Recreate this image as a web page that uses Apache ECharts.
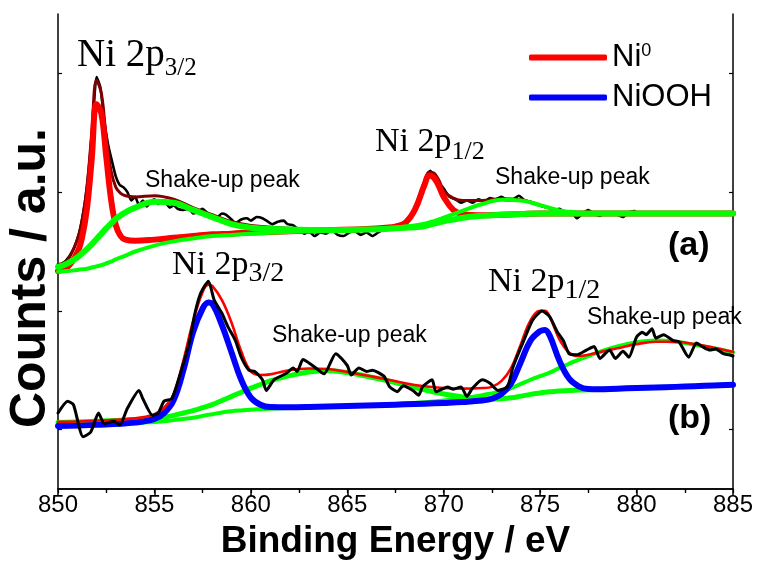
<!DOCTYPE html>
<html>
<head>
<meta charset="utf-8">
<title>Ni 2p XPS</title>
<script src="https://cdn.jsdelivr.net/npm/echarts@6/dist/echarts.min.js"></script>
<style>
html, body { margin: 0; padding: 0; background: #fff; }
#chart { width: 758px; height: 568px; }
</style>
</head>
<body>
<div id="chart"></div>
<script>
// axis ticks
const xTicks = [850, 855, 860, 865, 870, 875, 880, 885];
const yTicks = [5, 15, 25, 35];

// (a) fitted curves
const fitEnergyA = [850, 850.5, 851, 851.25, 851.5, 851.75, 852, 852.25, 852.5, 852.75,
  853, 853.25, 853.5, 854, 855, 856, 857, 858, 859, 860,
  862, 864, 866, 867, 867.5, 868, 868.5, 869, 869.25, 869.5,
  869.75, 870, 870.5, 871, 872, 873, 874, 875, 876, 877,
  878, 880, 885];
const ni0A = [18.35, 18.7, 19.9, 21.2, 23.6, 27.8, 32.4, 31.6, 28.0, 24.4,
  22.2, 21.3, 21.0, 20.9, 21.0, 21.15, 21.3, 21.45, 21.5, 21.6,
  21.7, 21.8, 21.9, 22.0, 22.1, 22.4, 23.5, 25.6, 26.4, 26.2,
  25.5, 24.6, 23.5, 23.15, 23.05, 23.1, 23.15, 23.2, 23.2, 23.2,
  23.2, 23.2, 23.2];
const shakeA1 = [18.7, 19.0, 19.5, 19.85, 20.2, 20.6, 21.05, 21.5, 21.95, 22.35,
  22.75, 23.05, 23.3, 23.7, 24.2, 24.1, 23.5, 22.9, 22.3, 22.0,
  21.85, 21.8, 21.85, 21.9, 21.95, 22.0, 22.05, 22.15, 22.25, 22.35,
  22.45, 22.55, 22.7, 22.85, 23.0, 23.1, 23.15, 23.2, 23.2, 23.2,
  23.2, 23.2, 23.2];
const shakeA2 = [18.3, 18.35, 18.45, 18.5, 18.55, 18.65, 18.75, 18.85, 19.0, 19.15,
  19.35, 19.5, 19.65, 20.0, 20.5, 20.85, 21.1, 21.3, 21.4, 21.5,
  21.65, 21.75, 21.85, 21.95, 22.0, 22.1, 22.2, 22.35, 22.45, 22.55,
  22.7, 22.85, 23.15, 23.45, 24.0, 24.35, 24.3, 23.9, 23.45, 23.25,
  23.2, 23.2, 23.2];
const envelopeA = [18.9, 19.3, 21.0, 22.6, 25.4, 30.0, 34.4, 33.3, 29.6, 26.8,
  25.4, 24.9, 24.7, 24.6, 24.7, 24.4, 23.7, 23.1, 22.5, 22.2,
  21.95, 21.85, 21.95, 22.05, 22.15, 22.5, 23.6, 25.9, 26.7, 26.6,
  26.0, 25.1, 24.5, 24.3, 24.3, 24.45, 24.35, 23.9, 23.45, 23.25,
  23.2, 23.2, 23.2];

// (a) measured spectrum
const rawEnergyA = [850.0, 850.4, 850.8, 851.1, 851.4, 851.6, 851.8, 852.0, 852.2, 852.4,
  852.6, 852.8, 853.0, 853.2, 853.4, 853.6, 853.8, 854.0, 854.2, 854.4,
  854.6, 854.8, 855.0, 855.2, 855.4, 855.6, 855.8, 856.0, 856.2, 856.5,
  856.8, 857.0, 857.2, 857.5, 857.7, 858.0, 858.2, 858.5, 858.7, 859.0,
  859.2, 859.5, 859.8, 860.0, 860.3, 860.6, 860.9, 861.1, 861.4, 861.7,
  861.9, 862.2, 862.5, 862.8, 863.0, 863.3, 863.6, 863.9, 864.2, 864.5,
  864.8, 865.1, 865.4, 865.7, 866.0, 866.3, 866.6, 866.9, 867.2, 867.5,
  867.8, 868.0, 868.3, 868.6, 868.9, 869.1, 869.3, 869.5, 869.7, 870.0,
  870.3, 870.6, 870.9, 871.2, 871.5, 871.8, 872.1, 872.4, 872.7, 873.0,
  873.3, 873.6, 873.9, 874.2, 874.5, 874.8, 875.1, 875.4, 875.7, 876.0,
  876.3, 876.6, 876.9, 877.2, 877.5, 877.8, 878.1, 878.4, 878.7, 879.0,
  879.3, 879.6, 879.9];
const rawCountsA = [18.8, 19.2, 20.2, 21.6, 24.2, 27.0, 30.8, 34.7, 33.8, 31.0,
  29.0, 27.6, 26.3, 25.6, 25.4, 25.0, 24.3, 24.6, 23.9, 24.3,
  23.8, 24.2, 24.4, 24.0, 24.3, 24.1, 23.7, 23.9, 23.6, 23.5,
  23.6, 23.2, 23.3, 23.6, 23.3, 23.0, 22.8, 23.2, 23.1, 22.7,
  22.4, 22.7, 22.8, 22.6, 22.9, 22.8, 22.5, 22.3, 22.5, 22.6,
  22.3, 22.2, 21.8, 21.5, 21.7, 21.3, 21.6, 21.5, 21.8, 21.4,
  21.3, 21.6, 21.7, 21.4, 21.6, 21.3, 21.6, 21.9, 22.0, 22.1,
  22.3, 22.5, 23.0, 24.0, 25.4, 26.3, 26.8, 26.4, 25.9, 25.3,
  24.6, 24.4, 24.1, 24.3, 24.1, 24.4, 24.2, 24.5, 24.4, 24.6,
  24.3, 24.4, 24.7, 24.3, 24.2, 24.0, 23.8, 23.7, 23.5, 23.6,
  23.3, 23.4, 22.8, 23.2, 23.5, 23.2, 23.0, 23.3, 23.2, 23.1,
  22.9, 23.3, 23.4];

// (b) fitted curves
const fitEnergyB = [850, 852, 854, 855, 855.5, 856, 856.5, 857, 857.5, 857.8,
  858, 858.5, 859, 859.5, 860, 860.5, 861, 862, 863, 864,
  865, 866, 867, 868, 869, 870, 871, 872, 872.5, 873,
  873.5, 874, 874.5, 875, 875.25, 875.5, 876, 876.5, 877, 877.5,
  878, 879, 880, 881, 882, 883, 884, 885];
const niOOHB = [5.3, 5.4, 5.6, 5.9, 6.4, 7.5, 10.0, 13.2, 15.2, 15.7,
  15.6, 13.8, 11.5, 9.2, 7.7, 7.1, 6.9, 6.88, 6.9, 6.94,
  6.98, 7.03, 7.08, 7.13, 7.18, 7.25, 7.33, 7.45, 7.6, 8.0,
  8.9, 10.7, 12.5, 13.3, 13.4, 12.9, 10.8, 9.3, 8.65, 8.42,
  8.4, 8.45, 8.5, 8.55, 8.6, 8.66, 8.72, 8.78];
const shakeB1 = [5.6, 5.7, 5.85, 5.95, 6.05, 6.2, 6.4, 6.6, 6.85, 7.0,
  7.1, 7.45, 7.8, 8.15, 8.5, 8.8, 9.1, 9.55, 9.85, 9.95,
  9.8, 9.5, 9.15, 8.75, 8.35, 8.0, 7.75, 7.6, 7.58, 7.6,
  7.68, 7.82, 7.97, 8.09, 8.14, 8.18, 8.25, 8.3, 8.33, 8.36,
  8.39, 8.45, 8.5, 8.55, 8.6, 8.66, 8.72, 8.78];
const shakeB2 = [5.3, 5.4, 5.55, 5.65, 5.7, 5.8, 5.9, 6.0, 6.15, 6.25,
  6.3, 6.45, 6.55, 6.62, 6.68, 6.72, 6.76, 6.82, 6.88, 6.93,
  6.98, 7.05, 7.12, 7.2, 7.3, 7.45, 7.65, 7.9, 8.05, 8.2,
  8.5, 8.85, 9.2, 9.5, 9.65, 9.8, 10.2, 10.55, 10.9, 11.2,
  11.5, 12.0, 12.35, 12.5, 12.4, 12.15, 11.85, 11.5];
const envelopeB = [5.65, 5.75, 5.95, 6.3, 6.85, 8.0, 10.8, 14.1, 16.6, 17.2,
  17.1, 15.9, 14.0, 11.6, 9.9, 9.6, 9.65, 10.0, 10.15, 10.1,
  9.85, 9.55, 9.25, 8.9, 8.65, 8.5, 8.45, 8.5, 8.6, 9.1,
  10.2, 12.2, 14.2, 15.0, 15.0, 14.5, 12.6, 11.5, 11.2, 11.3,
  11.5, 11.85, 12.2, 12.4, 12.4, 12.2, 11.9, 11.55];

// (b) measured spectrum
const rawEnergyB = [850.0, 850.5, 850.8, 851.3, 851.7, 852.1, 852.4, 852.9, 853.2, 853.6,
  854.2, 854.4, 854.9, 855.2, 855.5, 855.9, 856.3, 856.8, 857.1, 857.4,
  857.8, 858.1, 858.5, 858.8, 859.2, 859.5, 859.9, 860.2, 860.6, 860.8,
  861.2, 861.8, 862.2, 862.4, 862.7, 863.2, 863.8, 864.4, 865.0, 865.2,
  865.6, 866.0, 866.3, 866.9, 867.2, 867.6, 867.9, 868.4, 868.7, 868.9,
  869.4, 869.6, 870.2, 870.5, 870.9, 871.2, 871.5, 872.0, 872.4, 872.8,
  873.3, 873.6, 874.1, 874.6, 875.1, 875.5, 875.9, 876.2, 876.5, 876.9,
  877.4, 877.8, 878.1, 878.6, 878.9, 879.3, 879.6, 880.0, 880.3, 880.5,
  880.8, 881.0, 881.4, 881.9, 882.2, 882.7, 883.1, 883.4, 883.8, 884.1,
  884.5, 884.8, 885.0];
const rawCountsB = [6.4, 7.4, 7.1, 4.4, 4.8, 6.4, 5.5, 5.7, 5.4, 6.8,
  8.3, 7.6, 6.2, 6.4, 7.4, 7.6, 9.5, 12.3, 14.8, 16.5,
  17.5, 15.9, 14.8, 13.7, 12.5, 11.1, 10.0, 9.9, 9.2, 8.3,
  9.2, 9.7, 10.2, 9.9, 10.9, 10.4, 9.7, 11.4, 10.4, 9.6,
  10.2, 9.9, 10.0, 9.5, 8.6, 8.2, 8.7, 8.3, 7.9, 8.6,
  9.2, 8.2, 8.6, 8.4, 8.6, 7.8, 8.5, 9.2, 8.9, 8.3,
  8.6, 10.3, 12.3, 14.2, 15.0, 14.5, 13.2, 12.5, 11.4, 11.3,
  11.7, 12.0, 11.0, 11.7, 11.0, 11.6, 11.1, 12.8, 13.2, 13.0,
  13.5, 12.7, 13.0, 12.5, 12.4, 11.1, 12.3, 12.0, 11.7, 11.8,
  11.4, 11.3, 11.2];

const SANS = 'Liberation Sans, Arial, sans-serif';
const SERIF = 'Liberation Serif, Times New Roman, serif';

function pairs(xs, ys) {
  return xs.map((x, i) => [x, ys[i]]);
}

function curve(name, xs, ys, color, width, z, smooth) {
  return {
    name: name,
    type: 'line',
    data: pairs(xs, ys),
    showSymbol: false,
    smooth: smooth,
    z: z,
    color: color,
    lineStyle: { color: color, width: width, cap: 'round', join: 'round' },
    emphasis: { disabled: true },
    silent: true
  };
}

const measureCtx = document.createElement('canvas').getContext('2d');
function textWidth(text, font) {
  measureCtx.font = font;
  return measureCtx.measureText(text).width;
}

function label(text, x, y, size, family, weight) {
  return {
    type: 'text',
    x: x,
    y: y,
    silent: true,
    style: {
      text: text,
      fill: '#000',
      font: (weight || 'normal') + ' ' + size + 'px ' + family,
      align: 'left',
      verticalAlign: 'middle'
    }
  };
}

// "Ni 2p" followed by a subscript such as 3/2
function peakLabel(sub, x, y, size, subSize, drop) {
  const w = textWidth('Ni 2p', 'normal ' + size + 'px ' + SERIF);
  return [
    label('Ni 2p', x, y, size, SERIF),
    label(sub, x + w, y + drop, subSize, SERIF)
  ];
}

const chart = echarts.init(document.getElementById('chart'), null, { renderer: 'canvas' });

const option = {
  animation: false,
  backgroundColor: '#fff',
  grid: { left: 58, right: 25, top: 14, bottom: 79 },
  xAxis: [
    {
      type: 'value',
      position: 'bottom',
      min: xTicks[0],
      max: xTicks[xTicks.length - 1],
      interval: 5,
      axisLine: { lineStyle: { color: '#000', width: 1.5 } },
      axisTick: { inside: false, length: 7, lineStyle: { color: '#000', width: 1.5 } },
      minorTick: { show: true, splitNumber: 2, length: 4, lineStyle: { color: '#000', width: 1.2 } },
      splitLine: { show: false },
      axisLabel: { color: '#000', fontSize: 24, fontFamily: SANS, margin: 4 },
      name: 'Binding Energy / eV',
      nameLocation: 'middle',
      nameGap: 34,
      nameTextStyle: { color: '#000', fontSize: 37, fontWeight: 'bold', fontFamily: SANS }
    },
    {
      type: 'value',
      position: 'top',
      min: xTicks[0],
      max: xTicks[xTicks.length - 1],
      interval: 2.5,
      axisLine: { lineStyle: { color: '#000', width: 1.5 } },
      axisTick: { inside: true, length: 4, lineStyle: { color: '#000', width: 1.2 } },
      splitLine: { show: false },
      axisLabel: { show: false }
    }
  ],
  yAxis: [
    {
      type: 'value',
      position: 'left',
      min: 0,
      max: 40,
      axisLine: { show: true, lineStyle: { color: '#000', width: 1.5 } },
      axisTick: { show: true, inside: true, length: 4, customValues: yTicks, lineStyle: { color: '#000', width: 1.2 } },
      splitLine: { show: false },
      axisLabel: { show: false }
    },
    {
      type: 'value',
      position: 'right',
      min: 0,
      max: 40,
      axisLine: { show: true, lineStyle: { color: '#000', width: 1.5 } },
      axisTick: { show: true, inside: true, length: 4, customValues: yTicks, lineStyle: { color: '#000', width: 1.2 } },
      splitLine: { show: false },
      axisLabel: { show: false }
    }
  ],
  legend: {
    data: ['Ni0', 'NiOOH'],
    orient: 'vertical',
    left: 529,
    top: 42,
    padding: 0,
    itemWidth: 78,
    itemHeight: 6,
    itemGap: 9,
    icon: 'roundRect',
    selectedMode: false,
    formatter: function (name) {
      return name === 'Ni0' ? '{a|Ni}{b|0}' : '{a|NiOOH}';
    },
    textStyle: {
      color: '#000',
      fontSize: 31,
      fontFamily: SANS,
      rich: {
        a: { fontSize: 31, fontFamily: SANS, color: '#000', lineHeight: 31 },
        b: { fontSize: 18, fontFamily: SANS, color: '#000', verticalAlign: 'top', lineHeight: 18 }
      }
    }
  },
  graphic: [].concat(
    [{
      type: 'text',
      x: 31,
      y: 278,
      rotation: Math.PI / 2,
      silent: true,
      style: {
        text: 'Counts / a.u.',
        fill: '#000',
        font: 'bold 50px ' + SANS,
        align: 'center',
        verticalAlign: 'middle'
      }
    }],
    peakLabel('3/2', 77, 56, 39, 25, 12),
    peakLabel('1/2', 375, 142, 34, 26, 10),
    peakLabel('3/2', 172, 265, 34, 28, 9),
    peakLabel('1/2', 488, 282, 34, 28, 9),
    [
      label('Shake-up peak', 145, 181, 23, SANS),
      label('Shake-up peak', 495, 178, 23, SANS),
      label('Shake-up peak', 272, 336, 23, SANS),
      label('Shake-up peak', 587, 318, 23, SANS),
      label('(a)', 668, 246, 34, SANS, 'bold'),
      label('(b)', 668, 419, 34, SANS, 'bold')
    ]
  ),
  series: [
    curve('rawA', rawEnergyA, rawCountsA, '#000000', 2.6, 2, 0.2),
    curve('envelopeA', fitEnergyA, envelopeA, '#800000', 3, 3, 0.4),
    curve('Ni0', fitEnergyA, ni0A, '#ff0000', 6, 4, 0.4),
    curve('shakeA1', fitEnergyA, shakeA1, '#00ff00', 6, 5, 0.4),
    curve('shakeA2', fitEnergyA, shakeA2, '#00ff00', 4, 6, 0.4),
    curve('shakeB1', fitEnergyB, shakeB1, '#00ff00', 5, 2, 0.4),
    curve('shakeB2', fitEnergyB, shakeB2, '#00ff00', 4, 2, 0.4),
    curve('NiOOH', fitEnergyB, niOOHB, '#0000ff', 6, 3, 0.4),
    curve('envelopeB', fitEnergyB, envelopeB, '#ff0000', 2.6, 4, 0.4),
    curve('rawB', rawEnergyB, rawCountsB, '#000000', 3, 5, 0.2)
  ]
};

chart.setOption(option);
</script>
</body>
</html>
